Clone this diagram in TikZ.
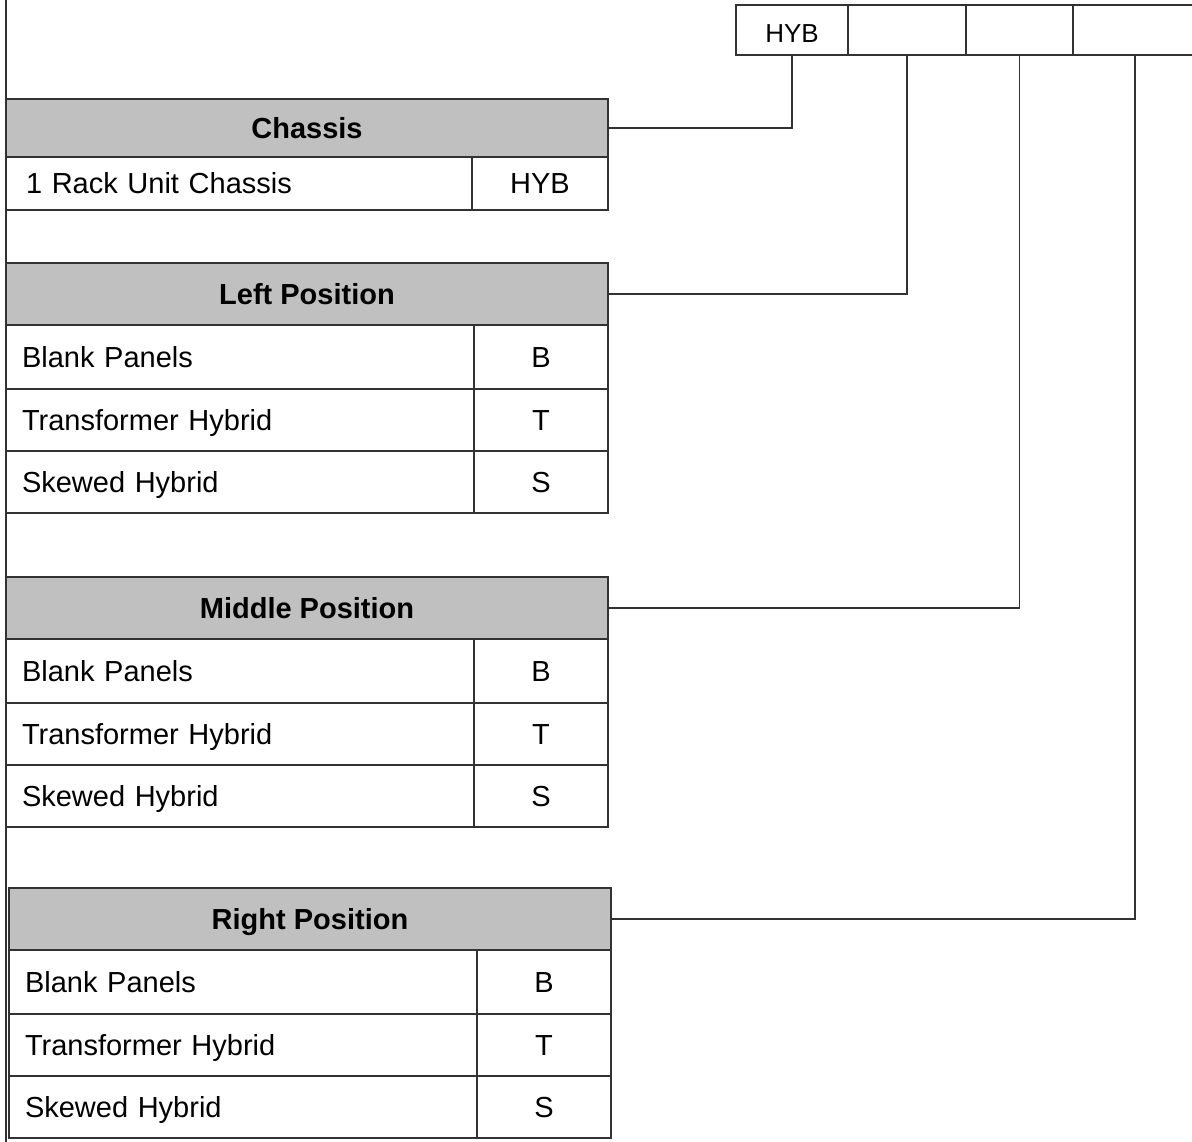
\documentclass[tikz,border=0pt]{standalone}
\usepackage{fontspec}
\setmainfont{Liberation Sans}
\usetikzlibrary{positioning}
\definecolor{hdrgray}{RGB}{192,192,192}
\definecolor{linegray}{RGB}{50,50,50}

\begin{document}
\begin{tikzpicture}[x=1pt, y=-1pt, line width=1.1pt, draw=linegray,
    font=\fontsize{29}{34}\selectfont,
    hdr/.style={draw=linegray, fill=hdrgray, anchor=north west, outer sep=0,
        minimum width=602, minimum height=62, inner sep=0,
        text height=21, text depth=0, font=\fontsize{29}{34}\selectfont\bfseries},
    cell/.style={draw=linegray, anchor=north west, outer sep=0, minimum height=62,
        text width=436, inner xsep=16, inner ysep=0, align=left,
        text height=21, text depth=0},
    codecell/.style={draw=linegray, anchor=north west, outer sep=0, minimum width=134,
        minimum height=62, inner sep=0, text height=21, text depth=0},
    slot/.style={draw=linegray, anchor=north west, outer sep=0, minimum height=50,
        inner sep=0, text height=25, text depth=0, font=\fontsize{26}{30}\selectfont}]
    \useasboundingbox (0,0) rectangle (1192,1142);
    % left border
    \draw (6,0) -- (6,1142);
    % code slots
    \node[slot, minimum width=112] (s1) at (736,5) {HYB};
    \node[slot, minimum width=118] (s2) at (s1.north east) {};
    \node[slot, minimum width=107] (s3) at (s2.north east) {};
    \node[slot, minimum width=124] (s4) at (s3.north east) {};
    % chassis table
    \node[hdr, minimum height=58] (chassis) at (6,99) {Chassis};
    \node[cell, minimum height=53, text width=426, inner xsep=20] (chassisR) at (chassis.south west) {1 Rack Unit Chassis};
    \node[codecell, minimum height=53, minimum width=136] (chassisRc) at (chassisR.north east) {HYB};
    % position tables
    \foreach \nm/\ttl/\x/\y in {left/Left Position/6/263, mid/Middle Position/6/577, right/Right Position/9/888} {
        \node[hdr] (\nm) at (\x,\y) {\ttl};
        \node[cell, minimum height=64] (\nm B) at (\nm.south west) {Blank Panels};
        \node[codecell, minimum height=64] (\nm Bc) at (\nm B.north east) {B};
        \node[cell] (\nm T) at (\nm B.south west) {Transformer Hybrid};
        \node[codecell] (\nm Tc) at (\nm T.north east) {T};
        \node[cell] (\nm S) at (\nm T.south west) {Skewed Hybrid};
        \node[codecell] (\nm Sc) at (\nm S.north east) {S};
    }
    % connectors
    \draw (chassis.east) -| (s1.south);
    \draw (left.east) -| (s2.south);
    \draw (mid.east) -| (s3.south);
    \draw (right.east) -| (s4.south);
\end{tikzpicture}
\end{document}
